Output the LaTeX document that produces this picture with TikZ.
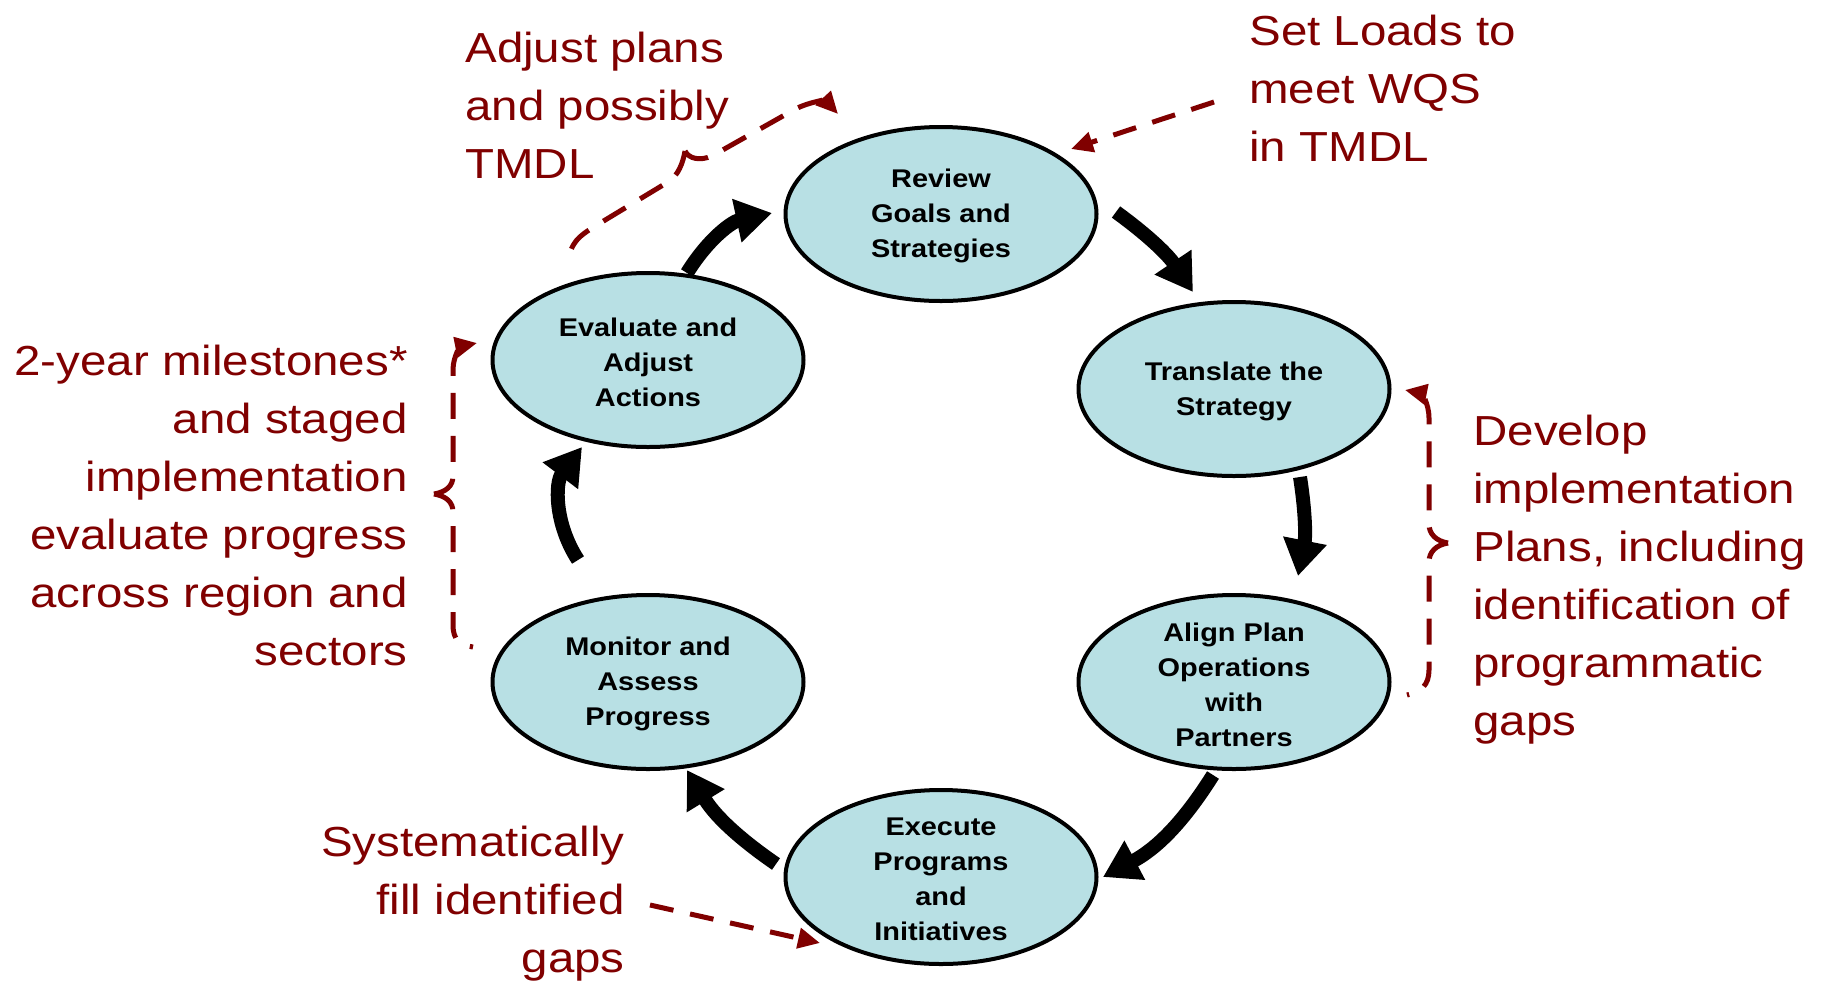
\documentclass[tikz,border=0pt]{standalone}
\usepackage{fontspec}
\setmainfont{Liberation Sans}[FakeStretch=1.13]
\usetikzlibrary{arrows.meta,shapes.geometric,calc}
\definecolor{darkred}{RGB}{128,0,0}
\definecolor{cellblue}{RGB}{184,224,228}
\begin{document}
\begin{tikzpicture}[x=0.5pt,y=-0.5pt,
  cyc/.style={ellipse, draw=black, line width=2pt, fill=cellblue, minimum width=155.5pt, minimum height=87pt, inner sep=0pt},
  cyctext/.style={font=\bfseries\fontsize{12.8pt}{17.5pt}\selectfont, align=center, inner sep=0pt, yshift=-1.2pt},
  note/.style={text=darkred, font=\fontsize{21pt}{29pt}\selectfont, inner sep=0pt},
  bigarrow/.style={line width=7pt, -{Triangle[width=21pt,length=18pt]}},
  reddash/.style={draw=darkred, line width=2.5pt, dash pattern=on 12pt off 8.5pt, -{Triangle[width=10pt,length=11pt]}},
  bracedash/.style={draw=darkred, line width=2.5pt, dash pattern=on 13pt off 8.5pt, dash phase=0pt, -{Triangle[width=10pt,length=11pt]}}
]
\useasboundingbox (0,0) rectangle (1822,981);
\fill[white] (0,0) rectangle (1822,981);

% cycle ellipses
\node[cyc, label={[cyctext]center:{Review\\Goals and\\Strategies}}] (review) at (941,214) {};
\node[cyc, label={[cyctext]center:{Translate the\\Strategy}}] (translate) at (1234,389) {};
\node[cyc, label={[cyctext]center:{Align Plan\\Operations\\with\\Partners}}] (align) at (1234,682) {};
\node[cyc, label={[cyctext]center:{Execute\\Programs\\and\\Initiatives}}] (execute) at (941,877) {};
\node[cyc, label={[cyctext]center:{Monitor and\\Assess\\Progress}}] (monitor) at (648,682) {};
\node[cyc, label={[cyctext]center:{Evaluate and\\Adjust\\Actions}}] (evaluate) at (648,360) {};

% black cycle arrows
\draw[bigarrow] ($(evaluate)+(39,-87)$) to[bend left=23] ($(review)+(-169,-1)$);
\draw[bigarrow] ($(review)+(175,-2)$) to[bend left=10] ($(translate)+(-41,-97)$);
\draw[bigarrow] ($(translate)+(66,88)$) to[bend left=10] ($(align)+(64,-106)$);
\draw[bigarrow] ($(align)+(-21,93)$) to[bend left=15] ($(execute)+(162,0)$);
\draw[bigarrow] ($(execute)+(-165,-13)$) to[bend left=12] ($(monitor)+(39,88)$);
\draw[bigarrow] ($(monitor)+(-70,-122)$) to[bend left=35] ($(evaluate)+(-66,87)$);

% annotations (anchor = baseline of last line)
\node[note, align=left, anchor=base west] (adjust) at (465,178) {Adjust plans\\and possibly\\TMDL};
\node[note, align=left, anchor=base west] (setloads) at (1249,161) {Set Loads to\\meet WQS\\in TMDL};
\node[note, align=right, anchor=base east] (milestones) at (408,665) {2-year milestones*\\and staged\\implementation\\evaluate progress\\across region and\\sectors};
\node[note, align=left, anchor=base west] (develop) at (1473,735) {Develop\\implementation\\Plans, including\\identification of\\programmatic\\gaps};
\node[note, align=right, anchor=base east] (fillgaps) at (625,972) {Systematically\\fill identified\\gaps};

% dashed connectors
\coordinate (slstart) at (1214,102);
\draw[reddash] (slstart) -- ($(review)+(130,-65)$);
\coordinate (fgstart) at (650,905);
\draw[reddash] (fgstart) -- ($(execute)+(-121,66)$);

% braces: each drawn from its cusp outwards so a dash sits on the cusp
\coordinate (adjcusp) at (685,151);
\coordinate (adjstart) at (568,264);
\coordinate (adjend) at (838,114);
\draw[bracedash] (adjcusp) .. controls (683,163) and (678,176) .. (668,182) -- (592,228)
  .. controls (580,236) and (570,242) .. (adjstart)
  (adjcusp) .. controls (689,159) and (700,161) .. (712,156) -- (790,112)
  .. controls (808,101) and (826,101) .. (adjend);

\coordinate (mscusp) at (434,494);
\coordinate (msstart) at (473,647);
\coordinate (msend) at (477,343);
\draw[bracedash] (mscusp) .. controls (446,496) and (453,502) .. (453,512) -- (453,625)
  .. controls (453,640) and (460,645) .. (msstart)
  (mscusp) .. controls (446,492) and (453,486) .. (453,476) -- (453,370)
  .. controls (453,355) and (462,346) .. (msend);

\coordinate (dvcusp) at (1448,543);
\coordinate (dvstart) at (1407,695);
\coordinate (dvend) at (1405,390);
\draw[bracedash] (dvcusp) .. controls (1436,545) and (1429,552) .. (1429,562) -- (1429,670)
  .. controls (1429,685) and (1421,692) .. (dvstart)
  (dvcusp) .. controls (1436,541) and (1429,534) .. (1429,524) -- (1429,418)
  .. controls (1429,402) and (1420,393) .. (dvend);
\end{tikzpicture}
\end{document}
